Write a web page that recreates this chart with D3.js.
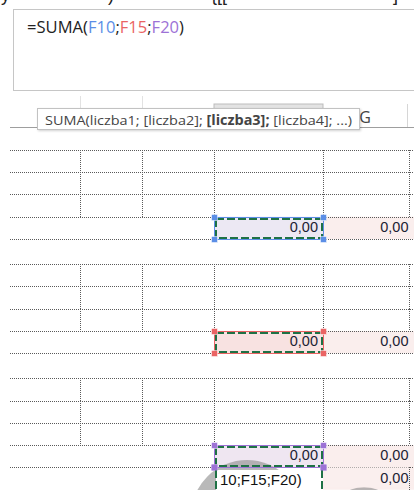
<!DOCTYPE html>
<html lang="pl">
<head>
  <meta charset="UTF-8">
  <title>SUMA F10;F15;F20</title>
  <script src="https://d3js.org/d3.v7.min.js"></script>
  <style>
    body { margin: 0; background: #fff; }
    svg { display: block; }
    .ui { font-family: "Open Sans", "Noto Sans", sans-serif; }
    .cell { font-family: "Liberation Sans", Arial, sans-serif; font-size: 14.5px; fill: #1c2233; }
    .grid { stroke: #5a5a5a; stroke-width: 1; stroke-dasharray: 1,1; shape-rendering: crispEdges; }
  </style>
</head>
<body>
  <svg id="sheet" width="414" height="490"></svg>

  <script>
    // --- data ---
    const formulaName = "SUMA";
    const refCells = ["F10", "F15", "F20"];
    const argNames = ["liczba1", "[liczba2]", "[liczba3]", "[liczba4]", "..."];
    const activeArg = 2;               // [liczba3] is bold
    const columns = ["C", "D", "E", "F", "G"];
    const rowNumbers = d3.range(6, 22); // rows 6..21
    const borderedRows = [7, 8, 9, 12, 13, 14, 17, 18, 19];
    const gapRows = [11, 16];
    const resultRows = [10, 15, 20];
    const fValues = [0, 0, 0];
    const gRows = [10, 15, 20, 21];
    const gValues = [0, 0, 0, 0];

    const refColors = { F10: "#5b8ee6", F15: "#ea6464", F20: "#9d72d6" };
    const cellFills = { F10: "#ece8f3", F15: "#f8e2e1", F20: "#efe6f1" };

    const fmt = d3.formatLocale({ decimal: ",", thousands: " ", grouping: [3], currency: ["", " zł"] }).format(".2f");

    const svg = d3.select("#sheet");

    // column scale (left edges) and widths
    const colLeft = d3.scaleOrdinal().domain(columns).range([10, 80, 142, 214, 323]);
    const colRight = d3.scaleOrdinal().domain(columns).range([80, 142, 214, 323, 409]);

    // row scale: tops built from row heights
    const rowH = r => gapRows.includes(r) ? 25 : 22.3;
    const tops = [127.5];
    rowNumbers.forEach((r, i) => tops.push(tops[i] + rowH(r)));
    const rowTop = d3.scaleOrdinal().domain(rowNumbers).range(tops);
    const rowBottom = r => rowTop(r) + rowH(r);

    // --- cut text line at very top ---
    const topFrag = svg.append("g").attr("font-family", "Liberation Sans, Arial").attr("font-size", 18).attr("fill", "#222");
    [["y", 1], [")", 108], ["{", 211], ["[[", 217], ["]", 393]].forEach(([t, x]) =>
      topFrag.append("text").attr("x", x).attr("y", 1).text(t));

    // --- formula bar ---
    svg.append("rect").attr("x", 13.5).attr("y", 9.5).attr("width", 420).attr("height", 81)
      .attr("fill", "#fff").attr("stroke", "#c6c6c6");

    const ftext = svg.append("text").attr("class", "ui").attr("x", 27).attr("y", 32.5)
      .attr("font-size", 15.5).attr("fill", "#222")
      .attr("textLength", 157).attr("lengthAdjust", "spacingAndGlyphs");
    ftext.append("tspan").text("=" + formulaName + "(");
    refCells.forEach((ref, i) => {
      ftext.append("tspan").attr("fill", refColors[ref]).text(ref);
      ftext.append("tspan").text(i < refCells.length - 1 ? ";" : ")");
    });

    // --- column header strip ---
    const hdr = svg.append("g");
    hdr.append("rect").attr("x", 214).attr("y", 104).attr("width", 109).attr("height", 23)
      .attr("fill", "#e3e3e3").attr("stroke", "#bdbdbd");
    [80, 142].forEach(x => hdr.append("line").attr("x1", x + 0.5).attr("x2", x + 0.5)
      .attr("y1", 96).attr("y2", 127).attr("stroke", "#e2e2e2"));
    hdr.append("line").attr("x1", 407.5).attr("x2", 407.5).attr("y1", 104).attr("y2", 127).attr("stroke", "#d6d6d6");
    hdr.append("line").attr("x1", 10).attr("x2", 414).attr("y1", 127.5).attr("y2", 127.5).attr("stroke", "#9e9e9e");
    hdr.append("text").attr("class", "ui").attr("x", (colLeft("G") + colRight("G")) / 2 - 1).attr("y", 123)
      .attr("text-anchor", "middle").attr("font-size", 16).attr("fill", "#444").text("G");

    // function-argument tooltip
    hdr.append("rect").attr("x", 37.5).attr("y", 108.5).attr("width", 322).attr("height", 21)
      .attr("fill", "#fff").attr("stroke", "#c2c2c2")
      .style("filter", "drop-shadow(1px 1px 1px rgba(0,0,0,0.18))");
    const tip = hdr.append("text").attr("class", "ui").attr("x", 45).attr("y", 124.5)
      .attr("font-size", 13.5).attr("fill", "#444")
      .attr("textLength", 307).attr("lengthAdjust", "spacingAndGlyphs");
    tip.append("tspan").text(formulaName + "(");
    argNames.forEach((a, i) => {
      const s = a + (i < argNames.length - 1 ? ";" : "");
      tip.append("tspan").attr("font-weight", i === activeArg ? "bold" : null).text(s);
      tip.append("tspan").text(i < argNames.length - 1 ? " " : ")");
    });

    // --- sheet cells ---
    const sheet = svg.append("g");

    // fills of result cells
    resultRows.forEach((r, i) => {
      sheet.append("rect").attr("x", colLeft("F")).attr("y", rowTop(r)).attr("width", colRight("F") - colLeft("F"))
        .attr("height", rowH(r)).attr("fill", cellFills[refCells[i]]);
    });
    gRows.forEach(r => {
      sheet.append("rect").attr("x", colLeft("G")).attr("y", rowTop(r)).attr("width", 414 - colLeft("G"))
        .attr("height", rowH(r)).attr("fill", "#faeeed");
    });

    // horizontal dotted gridlines (top of every row except first)
    const hLines = rowNumbers.slice(1).concat([22]).map(r => r === 22 ? rowBottom(21) : rowTop(r));
    sheet.selectAll(".hl").data(hLines).join("line").attr("class", "grid")
      .attr("x1", 10).attr("x2", 414).attr("y1", d => Math.round(d) + 0.5).attr("y2", d => Math.round(d) + 0.5);

    // vertical dotted gridlines in bordered rows
    const vEdges = [80, 142, 214, 323, 409];
    borderedRows.forEach(r => {
      vEdges.forEach(x => sheet.append("line").attr("class", "grid")
        .attr("x1", x + 0.5).attr("x2", x + 0.5)
        .attr("y1", Math.round(rowTop(r))).attr("y2", Math.round(rowBottom(r))));
    });
    sheet.append("line").attr("class", "grid").attr("x1", 409.5).attr("x2", 409.5)
      .attr("y1", Math.round(rowTop(21))).attr("y2", 490);

    // grey blobs at bottom (cursor overlay)
    sheet.append("circle").attr("cx", 247).attr("cy", 516).attr("r", 56).attr("fill", "#8a8a8a").attr("opacity", 0.6);
    sheet.append("circle").attr("cx", 364).attr("cy", 521).attr("r", 34).attr("fill", "#8a8a8a").attr("opacity", 0.6);
    sheet.append("rect").attr("x", colLeft("G") + 2).attr("y", rowTop(21)).attr("width", 84).attr("height", 20)
      .attr("fill", "#faeeed").attr("opacity", 0.9);

    // values
    resultRows.forEach((r, i) => {
      sheet.append("text").attr("class", "cell").attr("x", colRight("F") - 5).attr("y", rowBottom(r) - 7)
        .attr("text-anchor", "end").text(fmt(fValues[i]));
    });
    gRows.forEach((r, i) => {
      sheet.append("text").attr("class", "cell").attr("x", 408.5).attr("y", rowBottom(r) - 7)
        .attr("text-anchor", "end").text(fmt(gValues[i]));
    });

    // selection borders for referenced cells
    resultRows.forEach((r, i) => {
      const c = refColors[refCells[i]];
      const x0 = colLeft("F"), x1 = colRight("F"), y0 = Math.round(rowTop(r)), y1 = Math.round(rowBottom(r));
      sheet.append("rect").attr("x", x0 + 0.5).attr("y", y0 + 0.5).attr("width", x1 - x0).attr("height", y1 - y0)
        .attr("fill", "none").attr("stroke", c);
      sheet.append("rect").attr("x", x0 + 2).attr("y", y0 + 2).attr("width", x1 - x0 - 3).attr("height", y1 - y0 - 3)
        .attr("fill", "none").attr("stroke", "#1e7145").attr("stroke-width", 2).attr("stroke-dasharray", "8,3");
      [[x0, y0], [x1, y0], [x0, y1], [x1, y1]].forEach(([hx, hy]) =>
        sheet.append("rect").attr("x", hx - 2.5).attr("y", hy - 2.5).attr("width", 6).attr("height", 6)
          .attr("fill", c).attr("stroke", "#fff").attr("stroke-width", 0.5));
    });

    // in-cell edit overlay below F20
    const ov = svg.append("g");
    const oy = Math.round(rowBottom(20)) + 3;
    ov.append("rect").attr("x", 216).attr("y", oy).attr("width", 106).attr("height", 490 - oy).attr("fill", "#fff");
    [216, 322].forEach(x => ov.append("line").attr("x1", x).attr("x2", x).attr("y1", oy).attr("y2", 490)
      .attr("stroke", "#1e7145").attr("stroke-width", 2).attr("stroke-dasharray", "8,3"));
    ov.append("text").attr("font-family", "Liberation Sans, Arial").attr("font-size", 15).attr("fill", "#111")
      .attr("x", 220).attr("y", 485).text(refCells.join(";").slice(1) + ")");
    // re-draw lower handles above overlay
    const c20 = refColors.F20;
    [colLeft("F"), colRight("F")].forEach(hx =>
      ov.append("rect").attr("x", hx - 2.5).attr("y", Math.round(rowBottom(20)) - 2.5).attr("width", 6).attr("height", 6)
        .attr("fill", c20));
  </script>
</body>
</html>
